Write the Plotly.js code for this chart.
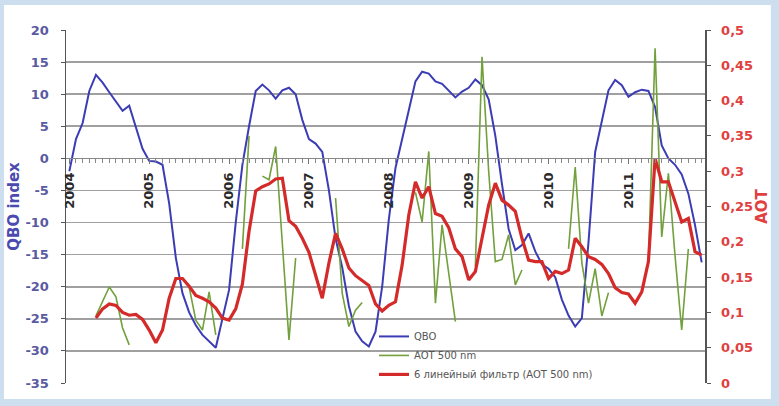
<!DOCTYPE html>
<html>
<head>
<meta charset="utf-8">
<script src="https://cdn.plot.ly/plotly-3.0.1.min.js"></script>
<style>html,body{margin:0;padding:0;background:#cddfee;}#chart{width:779px;height:406px;}</style>
</head>
<body>
<div id="chart"></div>
<script>
// Monthly index 0..95 = Jan 2004 .. Dec 2011
const yearLabels = ['2004','2005','2006','2007','2008','2009','2010','2011'];
const yearTickPos = [0,12,24,36,48,60,72,84];

const qbo = [
  -2, 3, 5.5, 10.5, 13, 11.8, 10.3, 8.8, 7.4, 8.2, 4.8, 1.5,
  -0.4, -0.5, -1, -7, -15.5, -21, -24, -26, -27.5, -28.5, -29.5, -25,
  -20.5, -10, -1, 5, 10.5, 11.5, 10.6, 9.3, 10.6, 11, 10, 6,
  3, 2.3, 1, -5, -12.5, -17, -23, -27, -28.5, -29.3, -27, -20,
  -9.5, -1.5, 3.2, 7.5, 12, 13.5, 13.2, 12, 11.6, 10.5, 9.5, 10.4,
  11, 12.3, 11.4, 9.2, 3.5, -4, -11, -14.3, -13.5, -11.7, -14.5, -16.5,
  -17.2, -18.5, -22, -24.5, -26.2, -24.9, -13, 1, 6, 10.6, 12.2, 11.4,
  9.6, 10.3, 10.7, 10.5, 8, 2, 0, -1, -2.5, -5.5, -10.4, -16.2
];

const aot500 = [
  null, null, null, null, 0.095, 0.115, 0.136, 0.122, 0.078, 0.054, null, null,
  null, null, null, null, null, null, 0.136, 0.089, 0.075, 0.129, 0.068, null,
  null, null, 0.19, 0.35, null, 0.293, 0.288, 0.335, 0.2, 0.061, 0.177, null,
  null, null, null, null, 0.262, 0.127, 0.08, 0.103, 0.114, null, null, null,
  null, null, null, null, 0.27, 0.228, 0.328, 0.113, 0.224, 0.155, 0.087, null,
  null, 0.165, 0.462, 0.3, 0.172, 0.175, 0.21, 0.139, 0.16, null, null, null,
  null, null, null, 0.19, 0.306, 0.17, 0.113, 0.162, 0.095, 0.128, null, null,
  null, null, null, 0.17, 0.474, 0.207, 0.297, 0.18, 0.075, 0.19, null, null
];

const aotFilter = [
  null, null, null, null, 0.092, 0.105, 0.112, 0.11, 0.1, 0.096, 0.097, 0.09,
  0.075, 0.057, 0.075, 0.12, 0.148, 0.148, 0.137, 0.124, 0.12, 0.115, 0.106, 0.092,
  0.089, 0.105, 0.14, 0.215, 0.272, 0.278, 0.282, 0.289, 0.29, 0.23, 0.222, 0.205,
  0.185, 0.152, 0.12, 0.17, 0.212, 0.19, 0.163, 0.152, 0.145, 0.138, 0.112, 0.102,
  0.11, 0.115, 0.167, 0.238, 0.285, 0.262, 0.278, 0.24, 0.236, 0.22, 0.19, 0.179,
  0.146, 0.158, 0.205, 0.252, 0.283, 0.259, 0.252, 0.243, 0.205, 0.174, 0.172, 0.172,
  0.148, 0.158, 0.155, 0.16, 0.205, 0.193, 0.179, 0.175, 0.168, 0.155, 0.135, 0.128,
  0.126, 0.113, 0.129, 0.172, 0.318, 0.285, 0.285, 0.257, 0.228, 0.233, 0.186, 0.181
];

const leftTickVals = [20, 15, 10, 5, 0, -5, -10, -15, -20, -25, -30, -35];
const leftTickText = ['20','15','10','5','0','-5','-10','-15','-20','-25','-30','-35'];
const rightTickVals = [0, 0.05, 0.1, 0.15, 0.2, 0.25, 0.3, 0.35, 0.4, 0.45, 0.5];
const rightTickText = ['0','0,05','0,1','0,15','0,2','0,25','0,3','0,35','0,4','0,45','0,5'];

const months = qbo.map((_, i) => i);

const FONT = 'DejaVu Sans, Verdana, sans-serif';

const traces = [
  {x: months, y: qbo, name: 'QBO', type: 'scatter', mode: 'lines',
   line: {color: '#3c3cb4', width: 2}, yaxis: 'y'},
  {x: months, y: aot500, name: 'AOT 500 nm', type: 'scatter', mode: 'lines',
   line: {color: '#72a03c', width: 1.6}, yaxis: 'y2', connectgaps: false},
  {x: months, y: aotFilter, name: '6 линейный фильтр (AOT 500 nm)', type: 'scatter', mode: 'lines',
   line: {color: '#d42a2a', width: 3.2}, yaxis: 'y2'}
];

const layout = {
  width: 779, height: 406,
  margin: {l: 66, r: 74, t: 30, b: 23, pad: 0},
  paper_bgcolor: '#cddfee',
  plot_bgcolor: 'rgba(0,0,0,0)',
  font: {family: FONT, size: 12, color: '#333'},
  showlegend: true,
  legend: {x: 0.482, y: 0.173, xanchor: 'left', yanchor: 'top',
           bgcolor: 'rgba(0,0,0,0)', borderwidth: 0,
           font: {family: FONT, size: 10, color: '#555'}},
  shapes: [{type: 'rect', xref: 'paper', yref: 'paper', layer: 'below',
            x0: -0.097, x1: 1.103, y0: -0.045, y1: 1.071,
            fillcolor: '#ffffff', line: {width: 0}}],
  xaxis: {
    range: [-0.5, 95.5], anchor: 'free', position: 35/55,
    showgrid: false, zeroline: false, showline: true, linecolor: '#888', linewidth: 1,
    tickmode: 'array', tickvals: yearTickPos, ticktext: yearLabels, tickangle: -90,
    ticks: 'outside', ticklen: 5, tickcolor: '#777', ticklabelstandoff: 3,
    minor: {tickmode: 'linear', tick0: 0, dtick: 1, ticks: 'outside', ticklen: 4, tickcolor: '#888', showgrid: false},
    tickfont: {family: FONT, size: 13, color: '#2a2a2a', weight: 'bold'}
  },
  yaxis: {
    range: [-35, 20], tickmode: 'array', tickvals: leftTickVals, ticktext: leftTickText,
    showgrid: true, gridcolor: '#a0a0a0', gridwidth: 1.6, zeroline: false,
    showline: true, linecolor: '#555', linewidth: 1.5,
    ticks: 'outside', ticklen: 4, tickcolor: '#555', ticklabelstandoff: 9,
    tickfont: {family: FONT, size: 13, color: '#5a5aa0', weight: 'bold'},
    title: {text: 'QBO index', font: {family: FONT, size: 15, color: '#4a4ab0', weight: 'bold'}, standoff: 2}
  },
  yaxis2: {
    range: [0, 0.5], overlaying: 'y', side: 'right', tickmode: 'array',
    tickvals: rightTickVals, ticktext: rightTickText,
    showgrid: false, zeroline: false, showline: true, linecolor: '#555', linewidth: 1.5,
    ticks: 'outside', ticklen: 4, tickcolor: '#555', ticklabelstandoff: 8,
    tickfont: {family: FONT, size: 13, color: '#e04040', weight: 'bold'},
    title: {text: 'AOT', font: {family: FONT, size: 15, color: '#e04040', weight: 'bold'}, standoff: 0}
  }
};

Plotly.newPlot('chart', traces, layout, {displayModeBar: false, staticPlot: true});
</script>
</body>
</html>
